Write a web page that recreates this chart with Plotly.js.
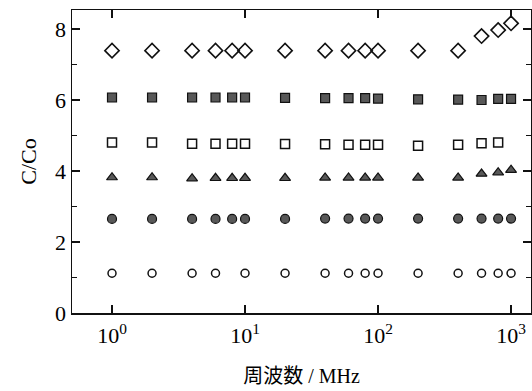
<!DOCTYPE html>
<html>
<head>
<meta charset="utf-8">
<script src="https://cdn.plot.ly/plotly-3.0.1.min.js"></script>
<style>html,body{margin:0;padding:0;background:#fff;}#chart{width:532px;height:391px;}</style>
</head>
<body>
<div id="chart"></div>
<script>
// Frequencies (MHz)
const freqAll = [1, 2, 4, 6, 8, 10, 20, 40, 60, 80, 100, 200, 400, 600, 800, 1000];
const freqNo8 = [1, 2, 4, 6, 10, 20, 40, 60, 80, 100, 200, 400, 600, 800, 1000];
const freqNo1000 = [1, 2, 4, 6, 8, 10, 20, 40, 60, 80, 100, 200, 400, 600, 800];

// C/Co values per series
const diamondVals = [7.39, 7.39, 7.39, 7.39, 7.39, 7.39, 7.39, 7.39, 7.39, 7.39, 7.39, 7.39, 7.39, 7.80, 7.97, 8.16];
const filledSquareVals = [6.07, 6.07, 6.07, 6.07, 6.07, 6.07, 6.06, 6.05, 6.05, 6.05, 6.04, 6.02, 6.01, 6.00, 6.03, 6.03];
const openSquareVals = [4.80, 4.80, 4.77, 4.77, 4.77, 4.77, 4.76, 4.75, 4.74, 4.74, 4.74, 4.71, 4.74, 4.78, 4.80];
const triangleVals = [3.82, 3.82, 3.79, 3.80, 3.80, 3.80, 3.80, 3.81, 3.81, 3.81, 3.81, 3.81, 3.81, 3.92, 3.96, 4.03];
const filledCircleVals = [2.65, 2.65, 2.65, 2.65, 2.65, 2.65, 2.65, 2.66, 2.66, 2.66, 2.66, 2.66, 2.66, 2.66, 2.66, 2.66];
const openCircleVals = [1.12, 1.12, 1.12, 1.12, 1.12, 1.12, 1.12, 1.12, 1.12, 1.12, 1.12, 1.12, 1.12, 1.12, 1.12];

// Tick labels
const xTickVals = [1, 10, 100, 1000];
const xTickText = ['10<sup>0</sup>', '10<sup>1</sup>', '10<sup>2</sup>', '10<sup>3</sup>'];
const yTickVals = [0, 2, 4, 6, 8];

const xTitle = '周波数 / MHz';
const yTitle = 'C/Co';

const dark = '#111';
const fillGray = '#585858';

function tr(x, y, symbol, size, fill, lw) {
  return {
    x: x, y: y, type: 'scatter', mode: 'markers', cliponaxis: false,
    marker: {symbol: symbol, size: size, color: fill, line: {color: dark, width: lw}},
    hoverinfo: 'skip'
  };
}

const data = [
  tr(freqAll, diamondVals, 'diamond-open', 11, dark, 1.6),
  tr(freqAll, filledSquareVals, 'square', 9, fillGray, 1.2),
  tr(freqNo1000, openSquareVals, 'square-open', 9, dark, 1.5),
  tr(freqAll, triangleVals, 'triangle-up', 9.5, fillGray, 1.2),
  tr(freqAll, filledCircleVals, 'circle', 9, fillGray, 1.2),
  tr(freqNo8, openCircleVals, 'circle-open', 8, dark, 1.5)
];

const serif = 'Liberation Serif';

const layout = {
  width: 532, height: 391,
  margin: {l: 72, r: 1, t: 10, b: 78, pad: 0},
  paper_bgcolor: '#fff', plot_bgcolor: '#fff',
  showlegend: false,
  font: {family: serif, color: '#000', size: 19},
  xaxis: {
    type: 'log', range: [-0.3008, 3.15],
    tickmode: 'array', tickvals: xTickVals, ticktext: xTickText,
    ticks: 'inside', ticklen: 8, tickwidth: 1.3, tickcolor: dark,
    showline: true, linecolor: dark, linewidth: 1.5, mirror: 'ticks',
    showgrid: false, zeroline: false,
    tickfont: {family: serif, size: 22, color: '#000'},
    ticklabelstandoff: 2,
    title: {text: xTitle, font: {family: 'Liberation Serif, Noto Sans CJK JP', size: 20, color: '#000'}, standoff: 22}
  },
  yaxis: {
    range: [0, 8.535],
    tickmode: 'array', tickvals: yTickVals,
    ticks: 'inside', ticklen: 8, tickwidth: 1.3, tickcolor: dark,
    minor: {tickmode: 'array', tickvals: [1, 3, 5, 7], ticks: 'inside', ticklen: 5, tickwidth: 1.2, tickcolor: dark, showgrid: false},
    showline: true, linecolor: dark, linewidth: 1.5, mirror: 'ticks',
    showgrid: false, zeroline: false,
    tickfont: {family: serif, size: 22, color: '#000'},
    ticklabelstandoff: 0,
    title: {text: yTitle, font: {family: serif, size: 22, color: '#000'}, standoff: 12}
  }
};

Plotly.newPlot('chart', data, layout, {staticPlot: true, displayModeBar: false});
</script>
</body>
</html>
